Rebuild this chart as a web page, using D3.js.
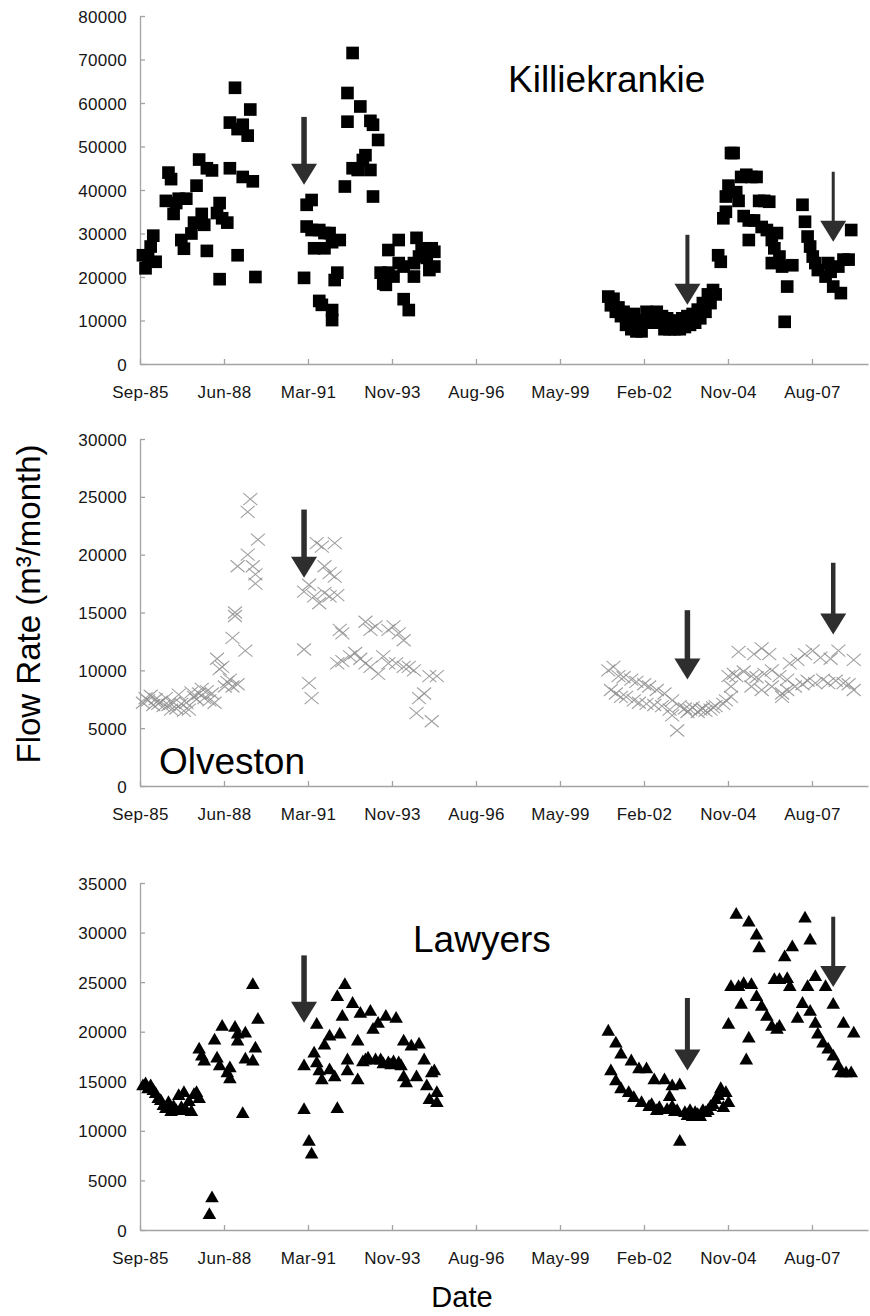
<!DOCTYPE html>
<html lang="en">
<meta charset="utf-8">
<style>
  body { margin: 0; background: #fff; }
  svg { display: block; font-family: "Liberation Sans", Arial, sans-serif; }
  .axis text { font-size: 17px; fill: #161616; letter-spacing: 0.3px; }
  .axis path, .axis line { stroke: #a3a3a3; stroke-width: 1.3; }
  .panel-title { font-size: 37px; fill: #000; }
  .axis-title { font-size: 33px; fill: #000; }
</style>
<body>
<svg id="chart" width="870" height="1316"></svg>
<script src="https://cdn.jsdelivr.net/npm/d3@7"></script>
<script>
// monthly flow rates, m3/month
const killiekrankie = [
  ['1985-10',25000],['1985-11',22000],['1985-12',24500],['1986-01',27000],['1986-02',29500],['1986-03',23500],
  ['1986-07',37500],['1986-08',44000],['1986-09',42500],['1986-10',34500],['1986-11',37000],['1986-12',38000],
  ['1987-01',28500],['1987-02',26500],['1987-03',38000],['1987-05',30000],['1987-06',32500],['1987-07',41000],
  ['1987-08',47000],['1987-09',34500],['1987-10',32000],['1987-11',26000],['1987-11',45000],['1988-01',44500],
  ['1988-03',34700],['1988-04',37000],['1988-04',19500],['1988-05',33500],['1988-07',32500],['1988-08',45000],
  ['1988-08',55500],['1988-10',63500],['1988-11',54000],['1988-11',25000],['1989-01',43000],['1989-01',55000],
  ['1989-03',52500],['1989-04',58500],['1989-05',42000],['1989-06',20000],
  ['1991-01',19800],['1991-02',36600],['1991-02',31600],['1991-04',37700],['1991-04',30800],['1991-05',26600],
  ['1991-07',14500],['1991-07',30800],['1991-08',13600],['1991-09',30100],['1991-09',26600],['1991-11',30100],
  ['1991-12',12400],['1991-12',10100],['1991-12',28000],['1992-01',19300],['1992-02',21000],['1992-03',28500],
  ['1992-05',40800],['1992-06',62300],['1992-06',55700],['1992-08',71500],['1992-08',45000],['1992-10',44600],
  ['1992-11',59200],['1992-12',46900],['1993-01',48000],['1993-03',55900],['1993-03',44600],['1993-04',55000],
  ['1993-04',38500],['1993-06',51500],
  ['1993-07',21000],['1993-08',18500],['1993-09',18200],['1993-10',26200],['1993-10',21000],['1993-12',20100],
  ['1994-02',28500],['1994-02',23200],['1994-04',22400],['1994-04',14900],['1994-06',12400],['1994-08',20100],
  ['1994-08',23200],['1994-09',29000],['1994-10',24700],['1994-11',26600],['1995-01',24400],['1995-02',21600],
  ['1995-03',26600],['1995-04',25800],['1995-04',22400],
  ['2000-12',15500],['2001-01',13500],['2001-02',15000],['2001-03',12000],['2001-04',13000],['2001-05',11000],
  ['2001-06',12000],['2001-07',9000],['2001-08',10500],['2001-09',8000],['2001-10',11500],['2001-11',7500],
  ['2001-12',9500],['2002-01',7500],['2002-02',10000],['2002-03',12000],['2002-04',9500],['2002-05',11500],
  ['2002-06',10000],['2002-07',12000],['2002-08',9500],['2002-09',11000],['2002-10',8000],['2002-11',10500],
  ['2002-12',8000],['2003-01',10000],['2003-02',8000],['2003-03',9500],['2003-04',8000],['2003-05',10500],
  ['2003-06',8500],['2003-07',11000],['2003-08',9000],['2003-09',11500],['2003-10',9500],['2003-11',12500],
  ['2003-12',10500],['2004-01',14000],['2004-02',12000],['2004-03',16000],['2004-04',14000],['2004-05',17000],
  ['2004-06',16000],['2004-07',25000],['2004-08',23500],['2004-09',33500],['2004-10',38500],['2004-10',35000],
  ['2004-11',41000],['2004-12',48500],['2005-01',48500],['2005-02',39500],['2005-03',37500],['2005-04',43000],
  ['2005-05',34000],['2005-06',43500],['2005-07',28500],['2005-07',33000],['2005-08',43000],['2005-09',33000],
  ['2005-10',43000],['2005-11',37500],['2005-12',31500],['2006-01',37500],['2006-02',30800],['2006-03',37300],
  ['2006-04',28500],['2006-04',23200],['2006-05',26600],['2006-06',30100],['2006-07',24700],['2006-08',22400],
  ['2006-09',9700],['2006-10',17800],['2006-12',22700],
  ['2007-04',36600],['2007-05',32700],['2007-06',29300],['2007-07',27000],['2007-08',24700],['2007-09',23200],
  ['2007-10',21600],['2008-01',20100],['2008-02',23200],['2008-03',21200],['2008-04',17800],['2008-06',22400],
  ['2008-07',16300],['2008-08',24000],['2008-10',24000],['2008-11',30800]
];

const olveston = [
  ['1985-10',7200],['1985-11',7600],['1985-12',7400],['1986-01',7800],['1986-02',7000],['1986-03',7500],
  ['1986-04',7100],['1986-05',7300],['1986-06',6900],['1986-07',7600],['1986-08',7000],['1986-09',6600],
  ['1986-10',7200],['1986-11',6700],['1986-12',7900],['1987-01',7100],['1987-02',6500],['1987-03',7200],
  ['1987-04',6600],['1987-05',8100],['1987-06',7700],['1987-07',7500],['1987-08',8000],['1987-09',8400],
  ['1987-10',7600],['1987-11',8200],['1987-12',7400],['1988-01',8000],['1988-02',7200],['1988-03',11000],
  ['1988-04',10100],['1988-05',10300],['1988-06',8600],['1988-07',9000],['1988-08',9200],['1988-09',8600],
  ['1988-09',12800],['1988-10',15000],['1988-10',14700],['1988-11',8800],['1988-11',19000],['1989-02',11700],
  ['1989-03',23700],['1989-03',20000],['1989-04',24800],['1989-05',19000],['1989-06',18300],['1989-06',17500],
  ['1989-07',21300],
  ['1991-01',11800],['1991-01',16800],['1991-03',8900],['1991-04',7600],['1991-03',17400],['1991-05',16400],
  ['1991-06',21000],['1991-07',15800],['1991-08',20700],['1991-09',16700],['1991-09',19000],['1991-11',18400],
  ['1991-11',16400],['1992-01',21000],['1992-01',18100],['1992-02',16500],['1992-02',10600],['1992-03',13500],
  ['1992-04',13200],['1992-04',10800],['1992-07',11200],['1992-09',11500],['1992-11',11000],['1993-01',10600],
  ['1993-01',14200],['1993-03',13500],['1993-03',10300],['1993-05',13800],['1993-06',9700],['1993-08',11200],
  ['1993-10',10600],['1993-10',13500],['1993-12',13800],['1994-01',10600],['1994-02',13200],['1994-04',12600],
  ['1994-04',10300],['1994-06',10300],['1994-08',10000],['1994-09',6300],['1994-10',7600],['1994-12',8000],
  ['1995-02',9500],['1995-03',5600],['1995-05',9500],
  ['2000-12',10000],['2001-02',10300],['2001-04',9500],['2001-06',9400],['2001-09',9200],['2001-11',9000],
  ['2002-02',8800],['2002-04',8600],['2002-07',8300],['2002-10',8000],['2003-01',7400],
  ['2001-01',8300],['2001-03',8000],['2001-05',7700],['2001-07',7700],['2001-10',7400],['2001-12',7200],
  ['2002-03',7100],['2002-06',7000],['2002-09',6900],['2002-12',6600],['2003-03',4800],['2003-01',6100],
  ['2003-04',6900],['2003-06',6700],['2003-07',6400],['2003-08',6600],['2003-09',6800],['2003-11',6400],
  ['2003-12',6600],['2004-01',6700],['2004-02',6500],['2004-04',6600],['2004-05',6800],['2004-06',6900],
  ['2004-09',7100],['2004-10',7400],['2004-12',7700],['2004-12',8600],['2005-02',9500],
  ['2005-03',11600],['2005-09',11400],['2005-12',11900],['2006-03',11400],['2006-11',10600],['2007-02',10900],
  ['2007-05',11400],['2007-08',11700],['2007-11',11100],['2008-03',11000],['2008-06',11700],['2008-12',10900],
  ['2004-11',9500],['2005-01',9700],['2005-05',9900],['2005-08',9500],['2005-10',9400],['2006-01',9700],
  ['2006-04',10000],['2006-07',9500],['2006-10',9200],
  ['2005-08',8600],['2005-12',8300],['2006-04',8600],['2006-08',8000],['2006-08',7700],['2006-10',8300],
  ['2007-01',8600],['2007-04',8800],['2007-06',9100],['2007-09',8900],['2007-12',9200],['2008-02',8900],
  ['2008-05',9100],['2008-08',8900],['2008-10',8800],['2008-12',8300]
];

const lawyers = [
  ['1985-10',14500],['1985-11',14700],['1985-12',14200],['1986-01',14500],['1986-02',14000],['1986-03',13700],
  ['1986-04',13200],['1986-05',13000],['1986-06',12500],['1986-07',12200],['1986-08',12800],['1986-09',11900],
  ['1986-10',12400],['1986-11',12000],['1986-12',13500],['1987-01',12300],['1987-02',13800],['1987-03',12000],
  ['1987-04',12900],['1987-05',11900],['1987-06',13600],['1987-07',13800],['1987-08',13200],['1987-08',18200],
  ['1987-09',17500],['1987-10',17000],['1987-12',1500],['1988-01',3200],['1988-02',19100],['1988-03',17300],
  ['1988-04',16500],['1988-05',20500],['1988-07',15800],['1988-08',15200],['1988-08',16300],['1988-10',20400],
  ['1988-11',19700],['1988-11',19000],['1989-01',11700],['1989-02',19800],['1989-02',17200],['1989-05',24700],
  ['1989-05',17000],['1989-06',18300],['1989-07',21200],
  ['1991-01',12100],['1991-01',16500],['1991-03',8900],['1991-04',7600],['1991-06',20700],['1991-05',17800],
  ['1991-06',16800],['1991-07',16000],['1991-08',15100],['1991-09',18600],['1991-11',19500],['1991-11',16100],
  ['1992-01',15400],['1992-02',12200],['1992-02',23500],['1992-03',19700],['1992-04',21500],['1992-05',24700],
  ['1992-06',17100],['1992-06',16000],['1992-08',22800],['1992-10',19000],['1992-10',15100],['1992-11',21800],
  ['1992-12',16900],['1993-01',17100],['1993-02',17300],['1993-03',22000],['1993-04',20200],['1993-05',17100],
  ['1993-06',20800],['1993-07',17100],['1993-08',16700],['1993-09',21500],['1993-10',16800],['1993-11',16600],
  ['1993-12',16900],['1994-01',21300],['1994-02',16800],['1994-03',16500],['1994-04',19000],['1994-04',15400],
  ['1994-05',14800],['1994-07',18500],['1994-09',15400],['1994-10',18700],['1994-12',17100],['1995-01',14500],
  ['1995-02',13100],['1995-03',15800],['1995-04',16000],['1995-05',13800],['1995-05',12800],
  ['2000-12',20000],['2001-03',18800],['2001-05',17700],['2001-09',17000],['2001-12',16200],['2002-03',16200],
  ['2002-06',15100],['2002-10',15100],['2003-01',14500],['2003-04',14600],
  ['2001-01',16000],['2001-03',15000],['2001-05',14200],['2001-08',13800],['2001-10',13300],['2002-01',12800],
  ['2002-04',12400],['2002-05',12600],['2002-07',12000],['2002-08',12300],['2002-11',12100],['2002-12',13400],
  ['2003-01',12400],['2003-02',11900],['2003-03',12000],['2003-04',8900],['2003-06',11800],['2003-07',11500],
  ['2003-08',12000],['2003-09',11400],['2003-10',11800],['2003-11',11600],['2003-12',11400],['2004-01',12000],
  ['2004-02',11800],['2004-03',12000],['2004-04',12400],['2004-05',12600],['2004-06',13100],['2004-07',13500],
  ['2004-08',14200],['2004-09',12300],['2004-10',13800],['2004-11',12800],
  ['2005-02',31800],['2005-07',31000],['2005-10',29700],['2005-11',28400],['2004-12',24500],['2005-03',24500],
  ['2005-05',24800],['2005-08',24700],['2005-10',23500],['2005-12',22500],['2006-02',21500],['2006-04',20500],
  ['2006-06',20200],['2006-07',20500],['2005-04',22700],['2004-11',20700],['2005-07',19300],['2005-06',17100],
  ['2006-05',25200],['2006-07',25200],['2006-10',25300],['2006-09',27500],['2006-12',28500],['2007-05',31400],
  ['2007-07',29200],['2006-11',24500],['2007-04',22800],['2007-02',21300],['2007-06',24500],['2007-07',22000],
  ['2007-09',25500],['2008-01',24500],['2007-09',20800],['2007-10',19700],['2007-12',18800],['2008-02',18200],
  ['2008-04',17500],['2008-06',16500],['2008-07',15800],['2008-09',15800],['2008-11',15800],['2008-04',22700],
  ['2008-08',20800],['2008-12',19800]
];

// arrows: same three dates on every panel, tip and tail values per panel
const arrowMonths = ['1991-01', '2003-07', '2008-04'];
const killieArrowTips = [41200, 13600, 28100];
const killieArrowTails = [56800, 29700, 44200];
const olvestonArrowTips = [18000, 9200, 13100];
const olvestonArrowTails = [23900, 15200, 19300];
const lawyersArrowTips = [20900, 16100, 24500];
const lawyersArrowTails = [27700, 23400, 31600];

const axisStart = new Date(1985, 8, 10);   // Excel date axis, 1000-day major unit
const tickDays = d3.range(0, 9).map(i => i * 1000);

const parseMonth = s => {
  const [y, m] = s.split('-').map(Number);
  return new Date(y, m - 1, 15);
};

const svg = d3.select('#chart');

const x = d3.scaleTime()
  .domain([axisStart, d3.timeDay.offset(axisStart, 8667)])
  .range([140, 868]);

const panels = [
  {title: 'Killiekrankie', data: killiekrankie, yMax: 80000, yStep: 10000, range: [364, 16],
   marker: 'square', titleAt: [508, 92], tips: killieArrowTips, tails: killieArrowTails, shaft: [5.5, 4, 3]},
  {title: 'Olveston', data: olveston, yMax: 30000, yStep: 5000, range: [786, 439],
   marker: 'cross', titleAt: [159, 774], tips: olvestonArrowTips, tails: olvestonArrowTails, shaft: [5.5, 5.5, 4.5]},
  {title: 'Lawyers', data: lawyers, yMax: 35000, yStep: 5000, range: [1230, 883],
   marker: 'triangle', titleAt: [413, 952], tips: lawyersArrowTips, tails: lawyersArrowTails, shaft: [5.5, 5, 4]}
];

const markerPath = {
  square: d3.symbol(d3.symbolSquare, 160)(),
  triangle: d3.symbol(d3.symbolTriangle, 80)(),
  cross: 'M-7,-6L7,6M-7,6L7,-6'
};

panels.forEach(p => {
  const y = d3.scaleLinear().domain([0, p.yMax]).range(p.range);
  const g = svg.append('g');

  // axes
  g.append('g')
    .attr('class', 'axis')
    .attr('transform', `translate(0,${p.range[0]})`)
    .call(d3.axisBottom(x)
      .tickValues(tickDays.map(d => d3.timeDay.offset(axisStart, d)))
      .tickFormat(d3.timeFormat('%b-%y'))
      .tickSizeInner(-5).tickSizeOuter(0).tickPadding(22))
    .call(a => a.attr('font-family', null).attr('font-size', null));

  g.append('g')
    .attr('class', 'axis')
    .attr('transform', 'translate(140,0)')
    .call(d3.axisLeft(y)
      .tickValues(d3.range(0, p.yMax + 1, p.yStep))
      .tickFormat(d3.format('d'))
      .tickSizeInner(-5).tickSizeOuter(0).tickPadding(13))
    .call(a => a.attr('font-family', null).attr('font-size', null))
    .call(a => a.selectAll('text').attr('dy', '0.36em'));

  // points
  const pts = g.append('g');
  const sel = pts.selectAll('path')
    .data(p.data)
    .join('path')
    .attr('transform', d => `translate(${x(parseMonth(d[0]))},${y(d[1])})`)
    .attr('d', markerPath[p.marker]);
  if (p.marker === 'cross') {
    sel.attr('fill', 'none').attr('stroke', '#8f8f8f').attr('stroke-width', 1.1).attr('stroke-opacity', 0.85);
  } else {
    sel.attr('fill', '#000');
  }

  // arrows
  arrowMonths.forEach((m, i) => {
    const ax = x(parseMonth(m));
    const tip = y(p.tips[i]);
    const tail = y(p.tails[i]);
    const headH = 21, headW = 13;
    g.append('rect')
      .attr('x', ax - p.shaft[i] / 2)
      .attr('y', tail)
      .attr('width', p.shaft[i])
      .attr('height', tip - headH - tail + 1)
      .attr('fill', '#2e2e2e');
    g.append('path')
      .attr('d', `M${ax - headW},${tip - headH}L${ax + headW},${tip - headH}L${ax},${tip}Z`)
      .attr('fill', '#2e2e2e');
  });

  g.append('text')
    .attr('class', 'panel-title')
    .attr('x', p.titleAt[0])
    .attr('y', p.titleAt[1])
    .text(p.title);
});

svg.append('text')
  .attr('class', 'axis-title')
  .attr('transform', 'translate(40,604) rotate(-90)')
  .attr('text-anchor', 'middle')
  .text('Flow Rate (m³/month)');

svg.append('text')
  .attr('class', 'axis-title')
  .attr('x', 462)
  .attr('y', 1307)
  .attr('text-anchor', 'middle')
  .style('font-size', '29px')
  .text('Date');
</script>
</body>
</html>
